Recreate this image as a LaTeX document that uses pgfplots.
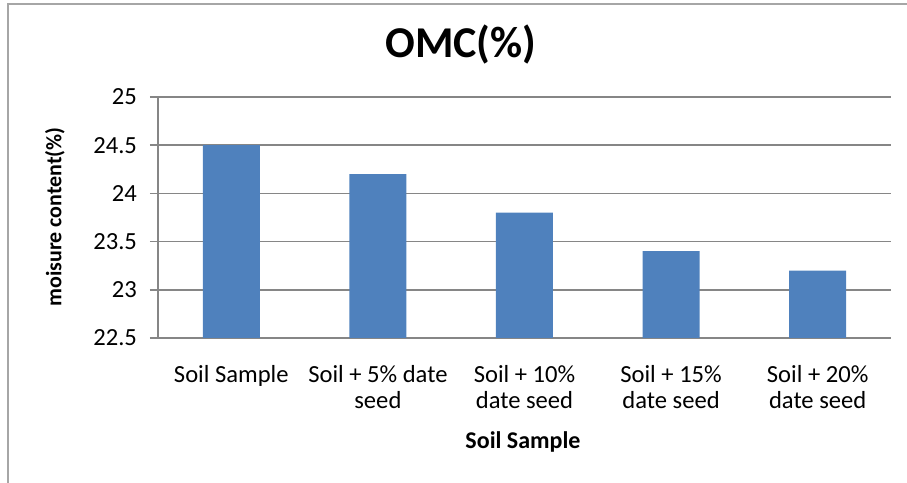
\documentclass[border=0pt]{standalone}
\usepackage{fontspec}
\setmainfont{Carlito}
\usepackage{pgfplots}
\pgfplotsset{compat=1.18}
\definecolor{barblue}{HTML}{4F81BD}
\definecolor{gridgray}{HTML}{868686}
\begin{document}
\begin{tikzpicture}
\path[use as bounding box] (0,0) rectangle (453.5pt,241.5pt);
\draw[gray!70,line width=1.2pt] (4pt,0) -- (4pt,239.5pt) -- (453.5pt,239.5pt);
\begin{axis}[scale only axis,width=366.5pt,height=120.5pt,
  at={(79pt,72.5pt)},anchor=south west,
  ybar,bar width=28.5pt,
  xmin=-0.5,xmax=4.5,ymin=22.5,ymax=25,
  ytick={22.5,23,23.5,24,24.5,25},
  yticklabels={22.5,23,23.5,24,24.5,25},
  xtick={0,1,2,3,4},
  xticklabels={Soil Sample,{Soil + 5\% date\\seed},{Soil + 10\%\\date seed},{Soil + 15\%\\date seed},{Soil + 20\%\\date seed}},
  xticklabel style={align=center,font=\fontsize{12.3}{13}\selectfont,yshift=-6pt},
  yticklabel style={font=\fontsize{12.3}{13}\selectfont,xshift=-3pt},
  axis x line*=bottom,axis y line*=left,
  axis line style={gridgray,line width=0.8pt,-},
  ymajorgrids,grid style={gridgray,line width=0.8pt},
  major x tick style={draw=none},
  major y tick style={gridgray,line width=0.8pt},
  tick align=outside,major tick length=4pt,
  /pgf/number format/assume math mode=true]
  \addplot[fill=barblue,draw=none] coordinates {(0,24.5)(1,24.2)(2,23.8)(3,23.4)(4,23.2)};
\end{axis}
\node[font=\bfseries\fontsize{22}{24}\selectfont] at (230.5pt,219pt) {OMC(\%)};
\node[font=\bfseries\fontsize{11}{12}\selectfont,rotate=90] at (27.5pt,133pt) {moisure content(\%)};
\node[font=\bfseries\fontsize{12}{13}\selectfont] at (261.5pt,20.5pt) {Soil Sample};
\end{tikzpicture}
\end{document}
